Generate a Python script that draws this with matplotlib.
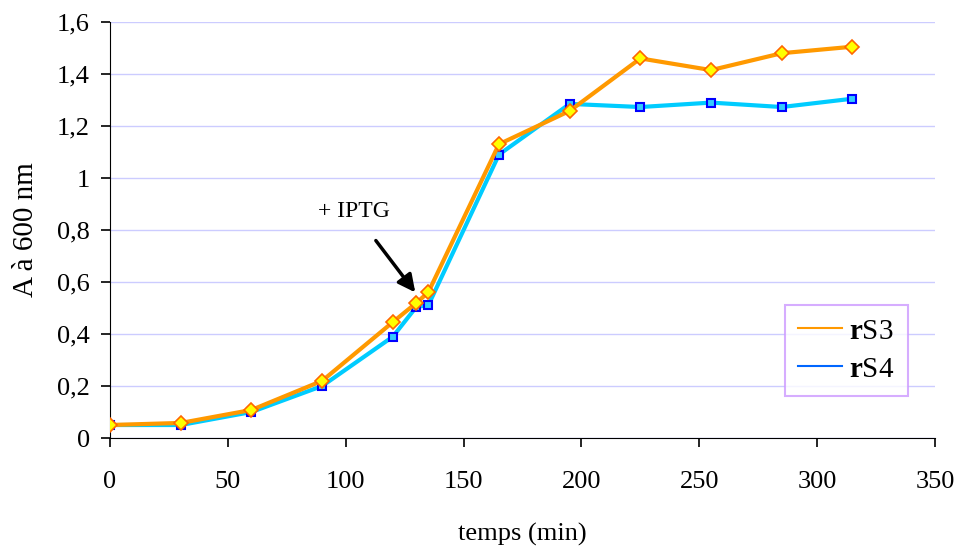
import matplotlib.pyplot as plt
from matplotlib.lines import Line2D
from matplotlib.ticker import FuncFormatter

plt.rcParams['font.family'] = ['Liberation Serif', 'DejaVu Serif']
plt.rcParams['mathtext.fontset'] = 'custom'
plt.rcParams['mathtext.rm'] = 'Liberation Serif'
plt.rcParams['mathtext.bf'] = 'Liberation Serif:bold'

temps = [0, 30, 60, 90, 120, 130, 135, 165, 195, 225, 255, 285, 315]
rs3 = [0.05, 0.058, 0.108, 0.22, 0.446, 0.52, 0.56, 1.13, 1.258, 1.46, 1.415, 1.48, 1.505]
rs4 = [0.05, 0.05, 0.1, 0.2, 0.39, 0.505, 0.51, 1.09, 1.285, 1.273, 1.29, 1.273, 1.305]

fig = plt.figure(figsize=(9.57, 5.5), dpi=100)
ax = fig.add_axes([0.115, 0.2036, 0.862, 0.7564])

ax.plot(temps, rs4, color='#00CCFF', lw=3, marker='s', ms=5.5,
        mfc='#33CCFF', mec='#0000FF', mew=1.5, zorder=3)
ax.plot(temps, rs3, color='#FF9900', lw=3, marker='D', ms=7.5,
        mfc='#FFFF00', mec='#FF6600', mew=1.2, zorder=4)

ax.set_xlim(0, 350)
ax.set_ylim(0, 1.6)
ax.set_xticks(range(0, 351, 50))
ax.set_yticks([i * 0.2 for i in range(9)])
ax.yaxis.set_major_formatter(FuncFormatter(
    lambda v, p: ('%g' % round(v, 1)).replace('.', ',')))
ax.grid(axis='y', color='#CCCCFF', lw=1)
ax.set_axisbelow(True)
for s in ['top', 'right']:
    ax.spines[s].set_visible(False)
ax.tick_params(labelsize=19, direction='out', length=6.5, width=1.2)
ax.tick_params(axis='x', pad=17)
ax.tick_params(axis='y', pad=8)
ax.set_xlabel('temps (min)', fontsize=19, labelpad=22)
ax.set_ylabel('A à 600 nm', fontsize=21, labelpad=13)

ax.annotate('+ IPTG', xy=(129.5, 0.56), xytext=(103.5, 0.87),
            fontsize=17, ha='center', va='center',
            arrowprops=dict(arrowstyle='-|>', color='black', lw=2.5,
                            mutation_scale=26, shrinkA=14, shrinkB=0))

handles = [Line2D([], [], color='#FF9900', lw=1.5),
           Line2D([], [], color='#0066FF', lw=1.5)]
leg = fig.legend(handles, [r'$\mathbf{r}$S3', r'$\mathbf{r}$S4'],
                 loc='upper left', bbox_to_anchor=(785 / 957, 1 - 305 / 550),
                 borderaxespad=0, fontsize=21, frameon=True, fancybox=False,
                 handlelength=1.5, handletextpad=0.25, labelspacing=0.4,
                 borderpad=0.45)
leg.get_frame().set_edgecolor('#CC99FF')
leg.get_frame().set_linewidth(1.5)

fig.savefig('out.png', dpi=100)
